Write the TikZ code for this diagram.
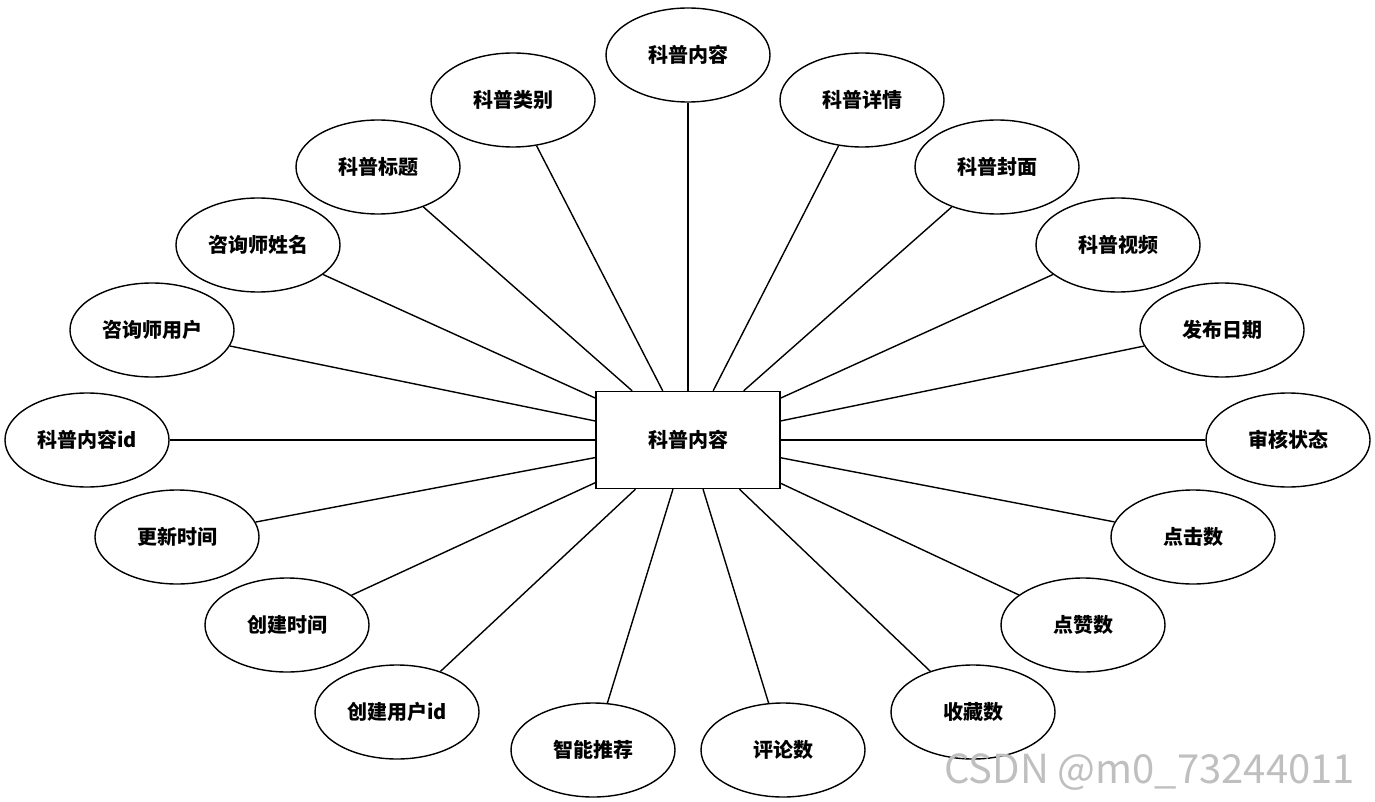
\documentclass[tikz,border=0pt]{standalone}
\usepackage{fontspec}
\newfontfamily\cjk{Noto Sans CJK SC}
\usetikzlibrary{shapes.geometric}
\begin{document}
\begin{tikzpicture}[x=0.5pt,y=-0.5pt,
  attr/.style={ellipse,draw,line width=0.7pt,minimum width=82pt,minimum height=47pt,inner sep=0pt,font=\cjk\bfseries\fontsize{10}{12}\selectfont},
  ent/.style={rectangle,draw,line width=0.7pt,minimum width=92pt,minimum height=48.5pt,font=\cjk\bfseries\fontsize{10}{12}\selectfont},
  link/.style={line width=0.7pt}]
\useasboundingbox (0,0) rectangle (1375,802);
\node[ent] (c) at (688,440) {科普内容};
\foreach \n/\x/\y/\t in {
 a1/688/55/科普内容, a2/513/100/科普类别, a3/862/100/科普详情,
 a4/378/167/科普标题, a5/997/167/科普封面, a6/258/245/咨询师姓名,
 a7/1118/245/科普视频, a8/152/330/咨询师用户, a9/1222/330/发布日期,
 a10/87/440/科普内容id, a11/1288/440/审核状态, a12/177/537/更新时间,
 a13/1193/537/点击数, a14/287/625/创建时间, a15/1083/625/点赞数,
 a16/397/712/创建用户id, a17/973/712/收藏数, a18/593/750/智能推荐,
 a19/783/750/评论数}{
  \node[attr] (\n) at (\x,\y) {\t};
  \draw[link] (\n) -- (c);
}
\node[font=\cjk\fontsize{20}{24}\selectfont,text=black!25,anchor=east] (wm) at (1362,772) {CSDN @m0\_73244011};
\end{tikzpicture}
\end{document}
